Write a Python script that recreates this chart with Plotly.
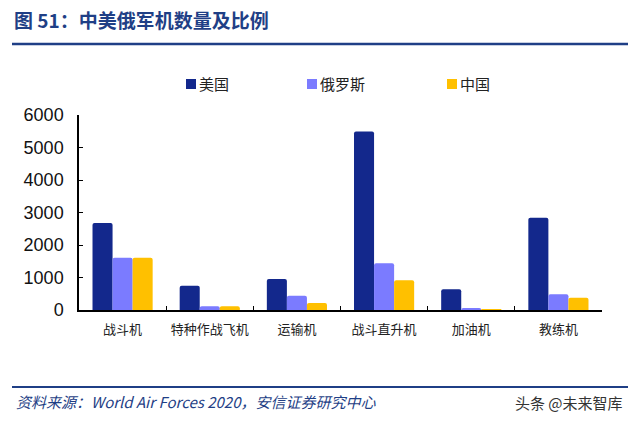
import plotly.graph_objects as go

categories = ["战斗机", "特种作战飞机", "运输机", "战斗直升机", "加油机", "教练机"]
usa = [2680, 750, 955, 5495, 640, 2835]
russia = [1610, 115, 440, 1440, 62, 484]
china = [1610, 115, 216, 915, 3, 379]
series_names = ["美国", "俄罗斯", "中国"]
colors = ["#13288C", "#7B7BFF", "#FFC000"]

CJK = "Noto Sans CJK SC"

# plot area in pixels
L, R, T, B = 79, 602, 115, 310
W, H = R - L, B - T
def px(x):
    return (x - L) / W
def py(y):
    return (B - y) / H

fig = go.Figure()
for name, vals, c in zip(series_names, [usa, russia, china], colors):
    fig.add_trace(go.Bar(x=categories, y=vals, name=name, marker=dict(color=c, line=dict(width=0))))

fig.update_layout(
    width=640, height=426,
    margin=dict(l=L, r=640 - R, t=T, b=426 - B),
    paper_bgcolor="white", plot_bgcolor="white",
    barmode="group", bargap=0.31, bargroupgap=0, barcornerradius=2,
    font=dict(family=CJK, color="#000000"),
    showlegend=False,
    xaxis=dict(showline=True, linecolor="black", linewidth=1.5, ticks="inside",
               tickson="boundaries", ticklen=4, tickcolor="black",
               tickfont=dict(family=CJK, size=13, color="#222222"),
               ticklabelstandoff=7,
               showgrid=False, zeroline=False),
    yaxis=dict(range=[0, 6000], dtick=1000, showline=True, linecolor="black", linewidth=1.5,
               ticks="inside", ticklen=4, tickcolor="black", showgrid=False, zeroline=False,
               tickfont=dict(family="Liberation Sans, Arial", size=18, color="#111111"),
               ticklabelstandoff=10),
)

# manual legend (small squares close to text, as in the original)
legend_x = [186, 307, 447]
legend_y = 84
for name, c, lx in zip(series_names, colors, legend_x):
    fig.add_shape(type="rect", xref="paper", yref="paper",
                  x0=px(lx), x1=px(lx + 10), y0=py(legend_y + 5), y1=py(legend_y - 5),
                  fillcolor=c, line=dict(width=0))
    fig.add_annotation(text=name, xref="paper", yref="paper", x=px(lx + 11), y=py(legend_y),
                       xanchor="left", yanchor="middle", showarrow=False,
                       font=dict(family=CJK, size=15, color="#222222"))

title_color = "#1F3F86"
fig.add_annotation(text="<b>图 51：中美俄军机数量及比例</b>", xref="paper", yref="paper",
                   x=px(12), y=py(19), xanchor="left", yanchor="middle", showarrow=False,
                   font=dict(family=CJK, size=19, color=title_color))
fig.add_shape(type="line", xref="paper", yref="paper", x0=px(12), x1=px(628), y0=py(44), y1=py(44),
              line=dict(color=title_color, width=2.5))
fig.add_shape(type="line", xref="paper", yref="paper", x0=px(12), x1=px(628), y0=py(387), y1=py(387),
              line=dict(color=title_color, width=2))
fig.add_annotation(text="<i>资料来源：World Air Forces 2020，安信证券研究中心</i>", xref="paper", yref="paper",
                   x=px(14), y=py(401), xanchor="left", yanchor="middle", showarrow=False,
                   font=dict(family=CJK, size=15, color=title_color))
fig.add_annotation(text="头条 @未来智库", xref="paper", yref="paper",
                   x=px(625), y=py(402), xanchor="right", yanchor="middle", showarrow=False,
                   font=dict(family=CJK, size=15, color="#333333"))

fig.write_html("out.html")
